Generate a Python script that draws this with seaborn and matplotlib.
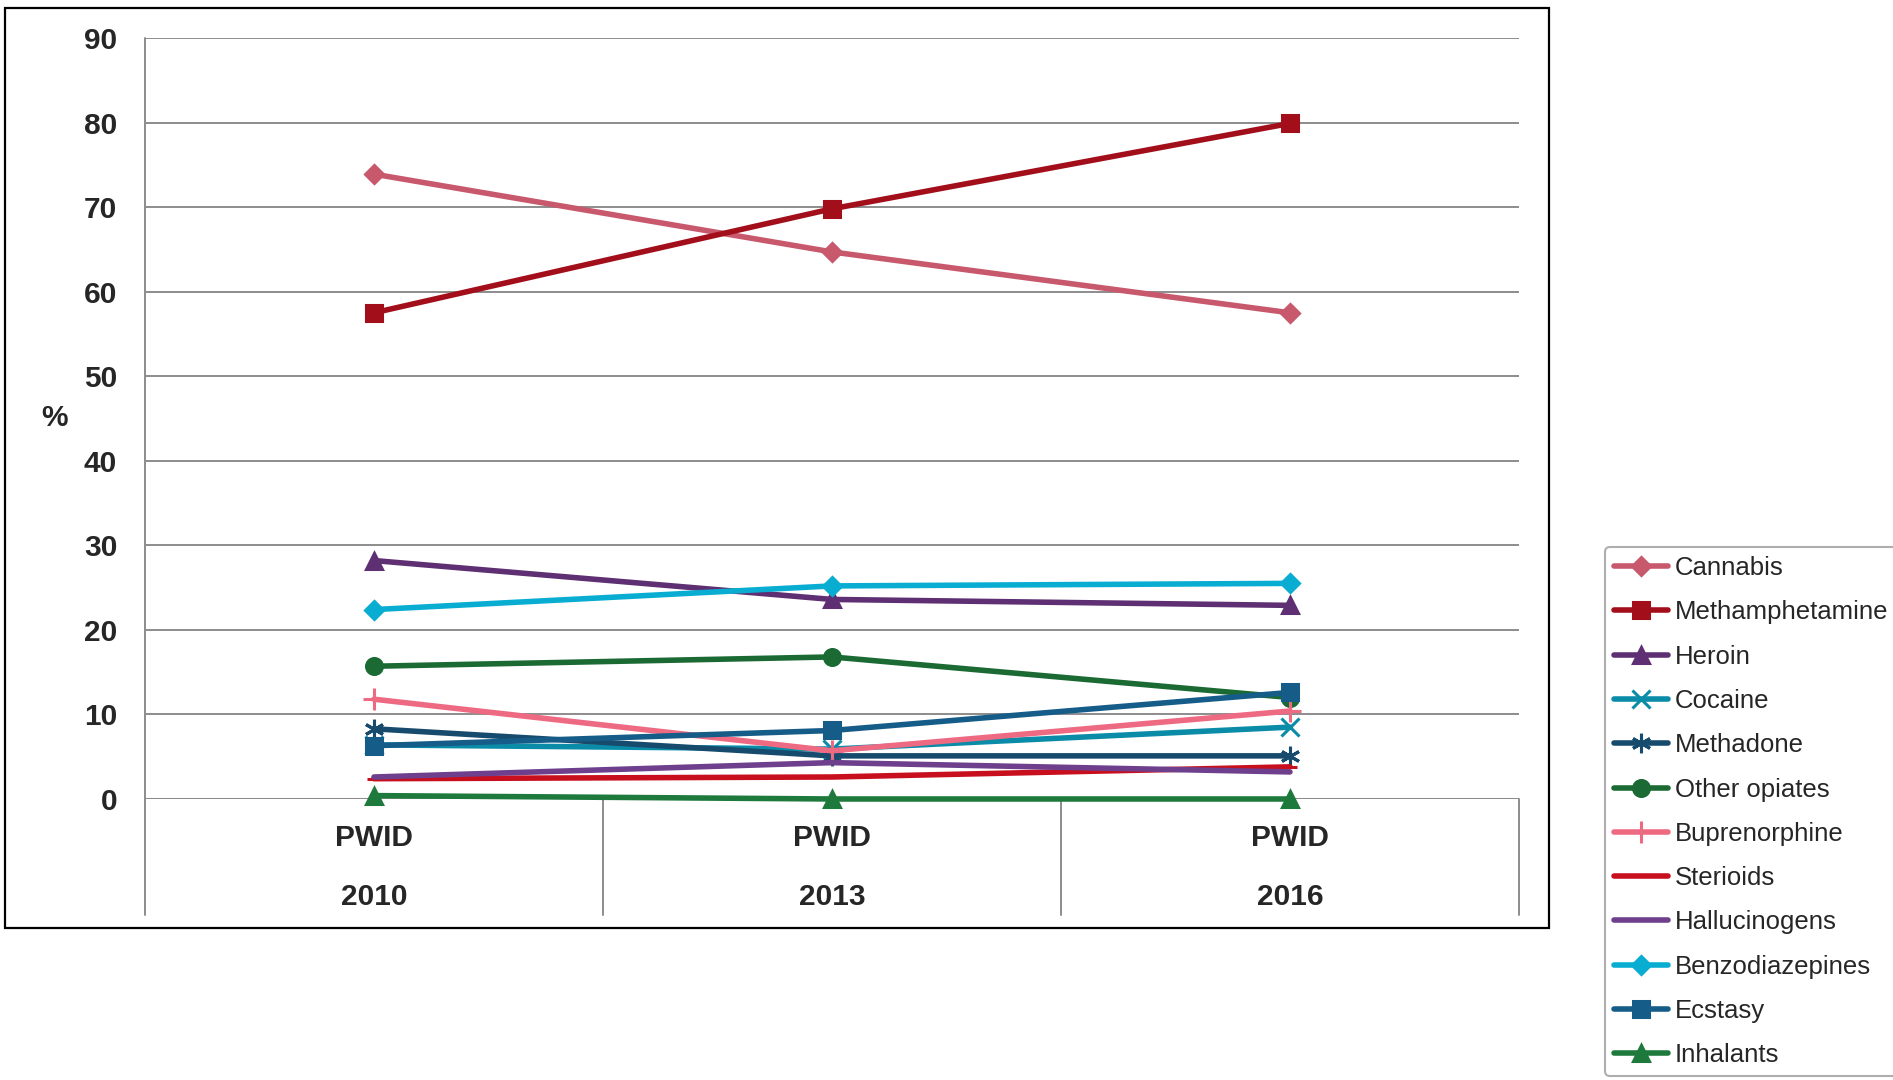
import matplotlib
matplotlib.use("Agg")
import matplotlib.pyplot as plt
import matplotlib.transforms as mtransforms
from matplotlib.patches import Rectangle
import pandas as pd
import seaborn as sns

# values (% of PWID)
categories = ["PWID\n2010", "PWID\n2013", "PWID\n2016"]
drugs = ["Cannabis", "Methamphetamine", "Heroin", "Cocaine", "Methadone",
         "Other opiates", "Buprenorphine", "Sterioids", "Hallucinogens",
         "Benzodiazepines", "Ecstasy", "Inhalants"]
cannabis = [73.9, 64.7, 57.5]
methamphetamine = [57.5, 69.8, 79.9]
heroin = [28.2, 23.6, 22.9]
cocaine = [6.4, 5.9, 8.5]
methadone = [8.3, 5.1, 5.1]
other_opiates = [15.7, 16.8, 12.0]
buprenorphine = [11.8, 5.7, 10.4]
steroids = [2.4, 2.6, 3.8]
hallucinogens = [2.6, 4.3, 3.2]
benzodiazepines = [22.4, 25.2, 25.5]
ecstasy = [6.3, 8.1, 12.6]
inhalants = [0.4, 0.0, 0.0]
yticks = list(range(0, 100, 10))

series = [cannabis, methamphetamine, heroin, cocaine, methadone, other_opiates,
          buprenorphine, steroids, hallucinogens, benzodiazepines, ecstasy, inhalants]
colors = ["#C8586C", "#A20F1B", "#5E2F72", "#0A8CA8", "#174B6E", "#1B6A34",
          "#EE6A82", "#C80F1E", "#6E3F8C", "#0AADD2", "#165C88", "#1E7A3C"]
markers = ["D", "s", "^", "x", (6, 2, 0), "o", "+", "_", "", "D", "s", "^"]
msizes = [9.5, 11.5, 11.5, 13, 14, 11.5, 16, 10, 0, 9.5, 11.5, 11.5]

df = pd.DataFrame({
    "drug": [d for d in drugs for _ in categories],
    "pos": [i for _ in drugs for i in range(len(categories))],
    "value": [v for s in series for v in s],
})

sns.set_style("white")
plt.rcParams["font.family"] = ["Liberation Sans", "DejaVu Sans"]

fig = plt.figure(figsize=(18.93, 10.80), dpi=100)
ax = fig.add_axes([0.0766, 0.2602, 0.7258, 0.7046])

for d, c, m, ms in zip(drugs, colors, markers, msizes):
    sub = df[df["drug"] == d]
    sns.lineplot(data=sub, x="pos", y="value", ax=ax, color=c, lw=4.0,
                 marker=m if m else None, markersize=ms, markeredgewidth=2.2,
                 markeredgecolor=c, label=d, clip_on=False)

ax.set_xlim(-0.5, 2.5)
ax.set_ylim(0, 90)
ax.set_yticks(yticks)
ax.set_yticklabels([str(t) for t in yticks], fontsize=21.5, fontweight="bold")
ax.set_xticks(range(len(categories)))
ax.set_xticklabels(categories, fontsize=21.5, fontweight="bold", linespacing=2.4)
ax.tick_params(axis="both", length=0)
ax.tick_params(axis="y", pad=20)
ax.tick_params(axis="x", pad=18)
ax.set_xlabel("")
ax.set_ylabel("%", rotation=0, fontsize=21.5, fontweight="bold", va="center")
ax.yaxis.set_label_coords(-0.066, 0.5)

ax.grid(axis="y", color="#8C8C8C", lw=1.4)
ax.set_axisbelow(True)
for sp in ax.spines.values():
    sp.set_visible(False)
ax.axhline(0, color="#8C8C8C", lw=2.2, zorder=1)

# category box lines below the axis, like the Excel chart
trans = mtransforms.blended_transform_factory(ax.transData, ax.transAxes)
for xs in [-0.5, 0.5, 1.5, 2.5]:
    top = 1.0 if xs == -0.5 else 0.0
    ax.plot([xs, xs], [top, -0.153], transform=trans, color="#8C8C8C",
            lw=1.4, clip_on=False, zorder=0)

ax.get_legend().remove()
handles, labels = ax.get_legend_handles_labels()
leg = fig.legend(handles, labels, loc="upper left", bbox_to_anchor=(0.848, 0.4935),
                 borderaxespad=0, frameon=True, fontsize=18.5, handlelength=2.1,
                 handletextpad=0.25, labelspacing=0.79, borderpad=0.35,
                 fancybox=True, edgecolor="#9A9A9A")
leg.get_frame().set_linewidth(1.5)

# outer chart frame
fig.patches.append(Rectangle((5 / 1893, 1 - 928 / 1080), 1544 / 1893, 920 / 1080,
                             transform=fig.transFigure, fill=False,
                             edgecolor="black", lw=1.6))

fig.savefig("out.png", dpi=100, facecolor="white")
